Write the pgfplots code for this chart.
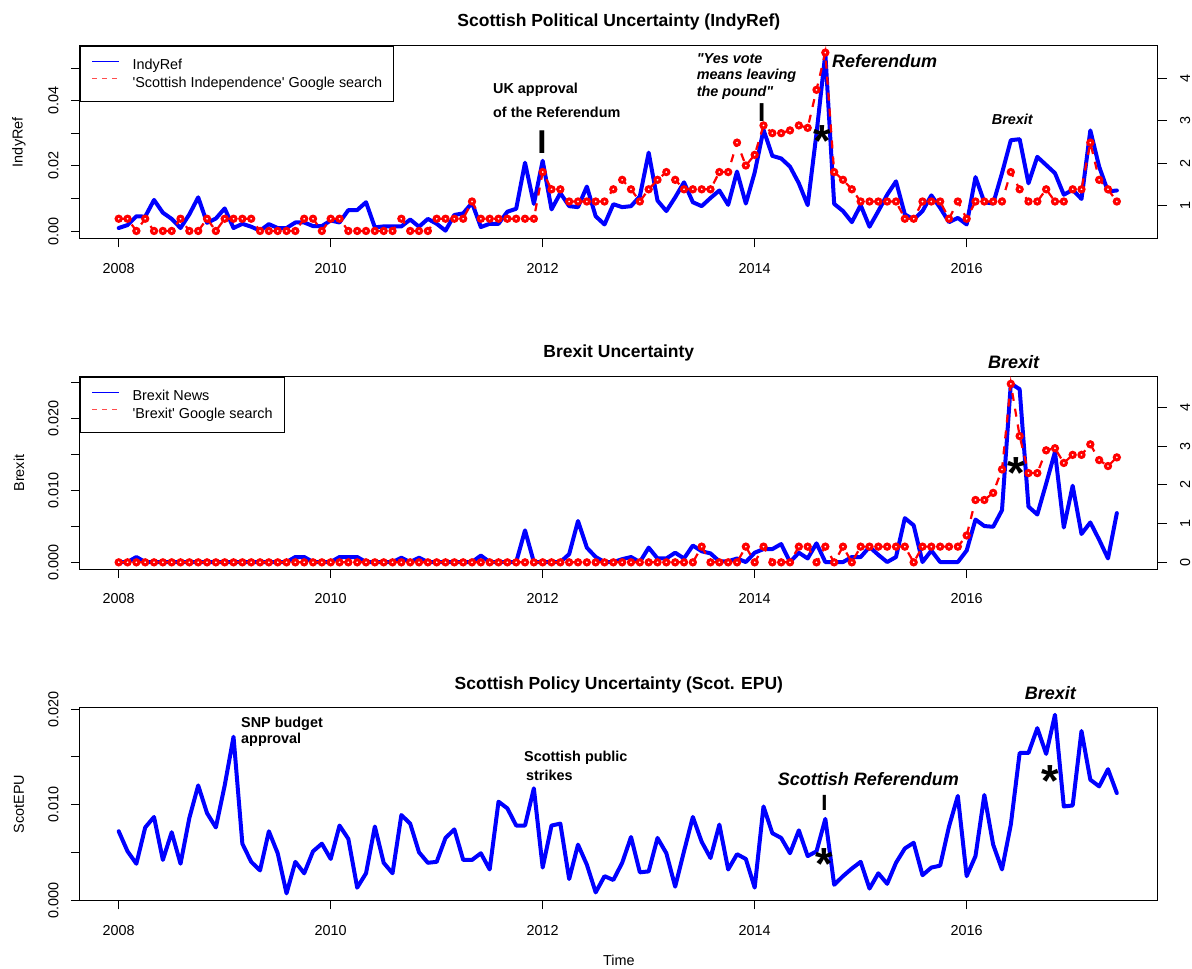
\documentclass[border=0pt]{standalone}
\usepackage{fontspec}
\setmainfont{Liberation Sans}
\usepackage{pgfplots}
\usepackage{pgfplotstable}
\pgfplotsset{compat=1.18}
\newcommand{\fsz}[1]{\fontsize{#1}{#1}\selectfont}

\pgfplotstableread{
i indy google
0 0.0010 0.693
1 0.0019 0.693
2 0.0046 0.405
3 0.0045 0.693
4 0.0096 0.405
5 0.0057 0.405
6 0.0038 0.405
7 0.0010 0.693
8 0.0052 0.405
9 0.0104 0.405
10 0.0026 0.693
11 0.0039 0.405
12 0.0070 0.693
13 0.0010 0.693
14 0.0023 0.693
15 0.0014 0.693
16 0.0002 0.405
17 0.0022 0.405
18 0.0010 0.405
19 0.0010 0.405
20 0.0027 0.405
21 0.0027 0.693
22 0.0016 0.693
23 0.0016 0.405
24 0.0033 0.693
25 0.0027 0.693
26 0.0065 0.405
27 0.0065 0.405
28 0.0089 0.405
29 0.0012 0.405
30 0.0015 0.405
31 0.0015 0.405
32 0.0015 0.693
33 0.0036 0.405
34 0.0014 0.405
35 0.0038 0.405
36 0.0023 0.693
37 0.0002 0.693
38 0.0050 0.693
39 0.0055 0.693
40 0.0087 1.099
41 0.0013 0.693
42 0.0023 0.693
43 0.0023 0.693
44 0.0060 0.693
45 0.0069 0.693
46 0.0210 0.693
47 0.0084 0.693
48 0.0216 1.792
49 0.0067 1.386
50 0.0117 1.386
51 0.0077 1.099
52 0.0074 1.099
53 0.0137 1.099
54 0.0046 1.099
55 0.0021 1.099
56 0.0083 1.386
57 0.0074 1.609
58 0.0077 1.386
59 0.0107 1.099
60 0.0241 1.386
61 0.0094 1.609
62 0.0062 1.792
63 0.0104 1.609
64 0.0150 1.386
65 0.0089 1.386
66 0.0077 1.386
67 0.0102 1.386
68 0.0125 1.792
69 0.0081 1.792
70 0.0183 2.485
71 0.0085 1.946
72 0.0180 2.197
73 0.0311 2.890
74 0.0231 2.708
75 0.0223 2.708
76 0.0198 2.773
77 0.0147 2.890
78 0.0080 2.833
79 0.0300 3.728
80 0.0544 4.605
81 0.0084 1.792
82 0.0062 1.609
83 0.0028 1.386
84 0.0080 1.099
85 0.0014 1.099
86 0.0062 1.099
87 0.0112 1.099
88 0.0153 1.099
89 0.0052 0.693
90 0.0036 0.693
91 0.0062 1.099
92 0.0110 1.099
93 0.0072 1.099
94 0.0028 0.693
95 0.0041 1.099
96 0.0021 0.693
97 0.0166 1.099
98 0.0089 1.099
99 0.0085 1.099
100 0.0178 1.099
101 0.0279 1.792
102 0.0282 1.386
103 0.0147 1.099
104 0.0228 1.099
105 0.0203 1.386
106 0.0178 1.099
107 0.0112 1.099
108 0.0127 1.386
109 0.0099 1.386
110 0.0309 2.485
111 0.0198 1.609
112 0.0122 1.386
113 0.0125 1.099
}\indytab

\pgfplotstableread{
i news google
0 0 0
1 0 0
2 0.0007 0
3 0 0
4 0 0
5 0 0
6 0 0
7 0 0
8 0 0
9 0 0
10 0 0
11 0 0
12 0 0
13 0 0
14 0 0
15 0 0
16 0 0
17 0 0
18 0 0
19 0 0
20 0.0007 0
21 0.0007 0
22 0 0
23 0 0
24 0 0
25 0.0007 0
26 0.0007 0
27 0.0007 0
28 0 0
29 0 0
30 0 0
31 0 0
32 0.0006 0
33 0 0
34 0.0006 0
35 0 0
36 0 0
37 0 0
38 0 0
39 0 0
40 0 0
41 0.0009 0
42 0 0
43 0 0
44 0 0
45 0 0
46 0.0044 0
47 0 0
48 0 0
49 0 0
50 0 0
51 0.0011 0
52 0.0057 0
53 0.0020 0
54 0.0007 0
55 0 0
56 0 0
57 0.0004 0
58 0.0007 0
59 0 0
60 0.0020 0
61 0.0005 0
62 0.0005 0
63 0.0013 0
64 0.0005 0
65 0.0023 0
66 0.0015 0.405
67 0.0012 0
68 0.0001 0
69 0.0001 0
70 0.0005 0
71 0 0.405
72 0.0013 0
73 0.0018 0.405
74 0.0018 0
75 0.0025 0
76 0 0
77 0.0013 0.405
78 0.0005 0.405
79 0.0026 0
80 0 0.405
81 0 0
82 0 0.405
83 0.0007 0
84 0.0007 0.405
85 0.0021 0.405
86 0.0010 0.405
87 0 0.405
88 0.0007 0.405
89 0.0061 0.405
90 0.0051 0
91 0 0.405
92 0.0016 0.405
93 0 0.405
94 0 0.405
95 0 0.405
96 0.0016 0.693
97 0.0059 1.609
98 0.0050 1.609
99 0.0049 1.792
100 0.0072 2.398
101 0.0248 4.605
102 0.0240 3.258
103 0.0077 2.303
104 0.0066 2.303
105 0.0109 2.890
106 0.0153 2.944
107 0.0048 2.565
108 0.0106 2.773
109 0.0039 2.773
110 0.0055 3.045
111 0.0031 2.639
112 0.0005 2.485
113 0.0068 2.708
}\brexittab

\pgfplotstableread{
i epu
0 0.0072
1 0.0051
2 0.0038
3 0.0076
4 0.0087
5 0.0042
6 0.0071
7 0.0038
8 0.0086
9 0.0120
10 0.0091
11 0.0076
12 0.0120
13 0.0171
14 0.0059
15 0.0040
16 0.0031
17 0.0072
18 0.0049
19 0.0007
20 0.0040
21 0.0028
22 0.0051
23 0.0059
24 0.0043
25 0.0078
26 0.0064
27 0.0013
28 0.0028
29 0.0077
30 0.0039
31 0.0028
32 0.0089
33 0.0080
34 0.0050
35 0.0039
36 0.0040
37 0.0065
38 0.0074
39 0.0042
40 0.0042
41 0.0049
42 0.0032
43 0.0103
44 0.0096
45 0.0078
46 0.0078
47 0.0117
48 0.0034
49 0.0078
50 0.0080
51 0.0022
52 0.0058
53 0.0037
54 0.0008
55 0.0025
56 0.0021
57 0.0039
58 0.0066
59 0.0029
60 0.0030
61 0.0065
62 0.0049
63 0.0014
64 0.0051
65 0.0087
66 0.0061
67 0.0044
68 0.0079
69 0.0032
70 0.0048
71 0.0043
72 0.0013
73 0.0098
74 0.0070
75 0.0065
76 0.0049
77 0.0073
78 0.0046
79 0.0051
80 0.0085
81 0.0016
82 0.0025
83 0.0033
84 0.0040
85 0.0012
86 0.0028
87 0.0017
88 0.0039
89 0.0054
90 0.0060
91 0.0026
92 0.0034
93 0.0036
94 0.0077
95 0.0109
96 0.0025
97 0.0046
98 0.0110
99 0.0058
100 0.0032
101 0.0079
102 0.0154
103 0.0154
104 0.0180
105 0.0153
106 0.0194
107 0.0098
108 0.0099
109 0.0177
110 0.0126
111 0.0119
112 0.0137
113 0.0112
}\epustab

\pgfplotsset{
  myleftax/.style={
    scale only axis, width=1078.3pt, anchor=north west,
    xmin=2007.632, xmax=2017.805,
    scaled y ticks=false, scaled x ticks=false,
    tick align=outside, major tick length=8.7pt,
    axis line style={line width=1pt},
    every tick/.style={black, line width=1pt},
    tick label style={font=\fsz{14.4}},
    /pgf/number format/assume math mode=true,
    xtick={2008,2010,2012,2014,2016},
    xticklabels={2008,2010,2012,2014,2016},
    xticklabel style={anchor=base, inner sep=0pt},
    xticklabel shift=25.8pt,
    yticklabel style={rotate=90, anchor=base, inner sep=0pt},
    yticklabel shift=12.7pt,
    title style={font=\bfseries\fsz{17.5}, at={(0.5,1)}, anchor=base, yshift=13.7pt},
    ylabel style={font=\fsz{14.4}, at={(axis description cs:-0.0563,0.5)}, anchor=center},
    tick pos=left,
    clip=false,
    legend cell align=left,
    legend style={at={(0,1)}, anchor=north west, draw=black, line width=1pt, fill=white,
      font=\fsz{14.4}, inner xsep=11.6pt, inner ysep=12.5pt, row sep=4.5pt, column sep=13pt,
      nodes={inner sep=0pt, text height=11pt, text depth=2pt}},
  },
  myrightax/.style={
    scale only axis, width=1078.3pt, anchor=north west,
    xmin=2007.632, xmax=2017.805,
    scaled y ticks=false,
    axis x line=none, axis y line*=right,
    tick align=outside, major tick length=8.7pt,
    axis line style={line width=1pt},
    every tick/.style={black, line width=1pt},
    tick label style={font=\fsz{14.4}},
    /pgf/number format/assume math mode=true,
    yticklabel style={rotate=90, anchor=north, inner sep=0pt},
    yticklabel shift=13.3pt,
  },
  mybluel/.style={blue, line width=4pt, line join=round, line cap=round,
    legend image code/.code={\draw[color=blue, solid, line width=1.1pt, line cap=butt] (0pt,4pt) -- (26.7pt,4pt);}},
  myredl/.style={red, line width=2.2pt, dash pattern=on 8pt off 8pt, mark=*, mark size=2.6pt,
    mark options={solid, draw=red, fill=white, line width=3pt}},
  redlegend/.style={legend image code/.code={\draw[color=red!70, line width=1.1pt, dash pattern=on 5pt off 5pt] (0pt,4pt) -- (26.7pt,4pt);}},
}

\begin{document}
\begin{tikzpicture}
\path (0pt,0pt) rectangle (1192pt,-969pt);

% ---------------- Panel 1 ----------------
\begin{axis}[myleftax, at={(79.7pt,-45.7pt)}, height=193pt,
  ymin=-0.002266, ymax=0.05683,
  ytick={0,0.01,0.02,0.03,0.04,0.05}, yticklabels={0.00,,0.02,,0.04,},
  title={Scottish Political Uncertainty (IndyRef)}, ylabel={IndyRef}]
\addplot[mybluel] table[x expr=2008+\thisrow{i}/12, y=indy]{\indytab};
\addlegendentry{IndyRef}
\addlegendimage{redlegend}
\addlegendentry{\textquotesingle Scottish Independence\textquotesingle\ Google search}
\node[font=\bfseries\fsz{14.4}, anchor=west, inner sep=0pt] at (axis cs:2011.531,0.04326) {UK approval};
\node[font=\bfseries\fsz{14.4}, anchor=west, inner sep=0pt] at (axis cs:2011.531,0.03631) {of the Referendum};
\node[font=\bfseries\fsz{33}, anchor=base, inner sep=0pt] at (axis cs:2011.993,0.02397) {I};
\node[font=\bfseries\itshape\fsz{14.4}, anchor=west, inner sep=0pt] at (axis cs:2013.453,0.05276) {\textquotedbl Yes vote};
\node[font=\bfseries\itshape\fsz{14.4}, anchor=west, inner sep=0pt] at (axis cs:2013.453,0.04776) {means leaving};
\node[font=\bfseries\itshape\fsz{14.4}, anchor=west, inner sep=0pt] at (axis cs:2013.453,0.04244) {the pound\textquotedbl};
\node[font=\bfseries\fsz{26}, anchor=base, inner sep=0pt] at (axis cs:2014.066,0.03347) {I};
\node[font=\bfseries\itshape\fsz{18}, anchor=west, inner sep=0pt] at (axis cs:2014.729,0.05214) {Referendum};
\node[font=\bfseries\fsz{45}, anchor=north, inner sep=0pt] at (axis cs:2014.642,0.03255) {*};
\node[font=\bfseries\itshape\fsz{14.4}, anchor=west, inner sep=0pt] at (axis cs:2016.236,0.03438) {Brexit};
\end{axis}
\begin{axis}[myrightax, at={(79.7pt,-45.7pt)}, height=193pt,
  ymin=0.223, ymax=4.767, ytick={1,2,3,4}]
\addplot[myredl] table[x expr=2008+\thisrow{i}/12, y=google]{\indytab};
\end{axis}

% ---------------- Panel 2 ----------------
\begin{axis}[myleftax, at={(79.7pt,-376.7pt)}, height=192.6pt,
  ymin=-0.00101, ymax=0.02574,
  ytick={0,0.005,0.01,0.015,0.02,0.025}, yticklabels={0.000,,0.010,,0.020,},
  title={Brexit Uncertainty}, ylabel={Brexit}]
\addplot[mybluel] table[x expr=2008+\thisrow{i}/12, y=news]{\brexittab};
\addlegendentry{Brexit News}
\addlegendimage{redlegend}
\addlegendentry{\textquotesingle Brexit\textquotesingle\ Google search}
\node[font=\bfseries\itshape\fsz{18}, anchor=west, inner sep=0pt] at (axis cs:2016.201,0.02782) {Brexit};
\node[font=\bfseries\fsz{45}, anchor=north, inner sep=0pt] at (axis cs:2016.472,0.01454) {*};
\end{axis}
\begin{axis}[myrightax, at={(79.7pt,-376.7pt)}, height=192.6pt,
  ymin=-0.18, ymax=4.79, ytick={0,1,2,3,4}]
\addplot[myredl] table[x expr=2008+\thisrow{i}/12, y=google]{\brexittab};
\end{axis}

% ---------------- Panel 3 ----------------
\begin{axis}[myleftax, at={(79.7pt,-707.3pt)}, height=193.4pt,
  ymin=-0.00007, ymax=0.02018,
  ytick={0,0.005,0.01,0.015,0.02}, yticklabels={0.000,,0.010,,0.020},
  title={Scottish Policy Uncertainty (Scot. EPU)}, ylabel={ScotEPU},
  title style={yshift=-2pt},
  xlabel={Time}, xlabel style={font=\fsz{14.4}, at={(axis description cs:0.5,-0.3066)}, anchor=center}]
\addplot[mybluel] table[x expr=2008+\thisrow{i}/12, y=epu]{\epustab};
\node[font=\bfseries\fsz{14.4}, anchor=west, inner sep=0pt] at (axis cs:2009.154,0.0185) {SNP budget};
\node[font=\bfseries\fsz{14.4}, anchor=west, inner sep=0pt] at (axis cs:2009.154,0.01683) {approval};
\node[font=\bfseries\fsz{14.4}, anchor=west, inner sep=0pt] at (axis cs:2011.824,0.01494) {Scottish public};
\node[font=\bfseries\fsz{14.4}, anchor=west, inner sep=0pt] at (axis cs:2011.842,0.01309) {strikes};
\node[font=\bfseries\itshape\fsz{18}, anchor=center, inner sep=0pt] at (axis cs:2015.073,0.01267) {Scottish Referendum};
\node[font=\bfseries\fsz{22}, anchor=base, inner sep=0pt] at (axis cs:2014.657,0.00935) {I};
\node[font=\bfseries\fsz{45}, anchor=north, inner sep=0pt] at (axis cs:2014.656,0.00541) {*};
\node[font=\bfseries\itshape\fsz{18}, anchor=center, inner sep=0pt] at (axis cs:2016.79,0.02164) {Brexit};
\node[font=\bfseries\fsz{45}, anchor=north, inner sep=0pt] at (axis cs:2016.786,0.01414) {*};
\end{axis}
\end{tikzpicture}
\end{document}
